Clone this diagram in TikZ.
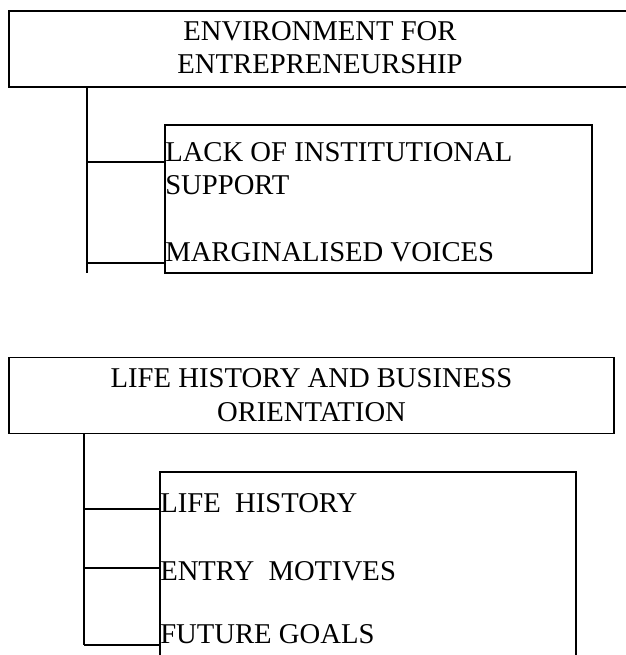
\documentclass[tikz,border=0pt]{standalone}
\usepackage{fontspec}
\setmainfont{Liberation Serif}
\begin{document}
% 1 unit = 1px of a 625 x 655 sheet, y grows downwards
\begin{tikzpicture}[x=0.75pt,y=-0.75pt,
  frame/.style={draw,line width=1.2pt,rectangle,inner sep=0pt},
  label/.style={inner sep=0pt,font=\fontsize{21.5pt}{24.75pt}\selectfont},
  conn/.style={line width=1.2pt}]
\useasboundingbox (0,0) rectangle (625,655);

% ---- Environment for entrepreneurship ----
\node[frame,minimum width=466.5pt,minimum height=57pt] (env) at (320,49) {};
\node[label,anchor=base] (envA) at (320,41) {ENVIRONMENT FOR};
\node[label,anchor=base] (envB) at (320,74) {ENTREPRENEURSHIP};

\node[frame,minimum width=320.25pt,minimum height=111pt] (inst) at (378.5,199) {};
\node[label,anchor=base west] (lack) at (165,162) {LACK OF INSTITUTIONAL};
\node[label,anchor=base west] (support) at (165,195) {SUPPORT};
\node[label,anchor=base west] (voices) at (165,262) {MARGINALISED VOICES};

\coordinate (trunkA) at (87,273);
\coordinate (brA1) at (165,162);
\coordinate (brA2) at (165,263);
\draw[conn] (env.south -| trunkA) -- (trunkA);
\draw[conn] (trunkA |- brA1) -- (brA1);
\draw[conn] (trunkA |- brA2) -- (brA2);

% ---- Life history and business orientation ----
\node[frame,minimum width=453.75pt,minimum height=57pt] (life) at (311.5,395.5) {};
\node[label,anchor=base] (lifeA) at (311.5,387) {LIFE HISTORY AND BUSINESS};
\node[label,anchor=base] (lifeB) at (311.5,421) {ORIENTATION};

\node[frame,minimum width=312pt,minimum height=171pt] (orient) at (368,586) {};
\node[label,anchor=base west] (lh) at (160,512) {LIFE\ \ HISTORY};
\node[label,anchor=base west] (em) at (160,580) {ENTRY\ \ MOTIVES};
\node[label,anchor=base west] (fg) at (160,643) {FUTURE GOALS};

\coordinate (trunkB) at (84,645);
\coordinate (brB1) at (160,509);
\coordinate (brB2) at (160,568);
\coordinate (brB3) at (160,645);
\draw[conn] (life.south -| trunkB) -- (trunkB);
\draw[conn] (trunkB |- brB1) -- (brB1);
\draw[conn] (trunkB |- brB2) -- (brB2);
\draw[conn] (trunkB |- brB3) -- (brB3);
\end{tikzpicture}
\end{document}
